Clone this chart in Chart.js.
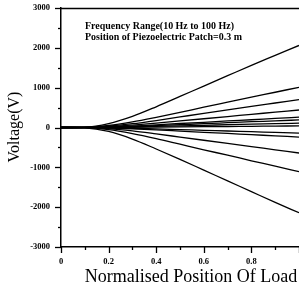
<!DOCTYPE html>
<html>
<head>
<meta charset="utf-8">
<script src="https://cdn.jsdelivr.net/npm/chart.js@4.4.1/dist/chart.umd.min.js"></script>
<style>
  html, body { margin: 0; padding: 0; background: #fff; }
  #wrap { width: 299px; height: 288px; }
</style>
</head>
<body>
<div id="wrap"><canvas id="c"></canvas></div>
<script>
// Posizioni normalizzate del carico (asse X)
const positions = [0, 0.1, 0.2, 0.3, 0.4, 0.5, 0.6, 0.7, 0.8, 0.9, 1.0];

// Tensioni, una curva per frequenza (10–100 Hz)
const v1 = [0, 10, 100, 280, 520, 780, 1040, 1300, 1560, 1810, 2060];
const v2 = [0, 5, 50, 140, 255, 380, 510, 635, 760, 885, 1010];
const v3 = [0, 3, 35, 95, 175, 265, 355, 440, 530, 615, 700];
const v4 = [0, 2, 20, 60, 110, 165, 220, 275, 330, 385, 440];
const v5 = [0, 1, 13, 35, 65, 100, 130, 165, 195, 230, 260];
const v6 = [0, 1, 9, 25, 48, 72, 95, 120, 145, 165, 190];
const v7 = [0, 0, 5, 15, 28, 42, 55, 70, 83, 97, 110];
const v8 = [0, 0, 2, 5, 10, 15, 20, 25, 30, 35, 40];
const v9 = [0, -1, -7, -19, -35, -53, -70, -88, -105, -123, -140];
const v10 = [0, -1, -12, -33, -60, -90, -120, -150, -180, -210, -240];
const v11 = [0, -3, -30, -85, -160, -240, -320, -400, -480, -560, -640];
const v12 = [0, -5, -55, -155, -280, -420, -560, -695, -835, -970, -1110];
const v13 = [0, -10, -100, -290, -540, -800, -1070, -1340, -1610, -1880, -2140];
const series = [v1, v2, v3, v4, v5, v6, v7, v8, v9, v10, v11, v12, v13];

const yMajor = [-3000, -2000, -1000, 0, 1000, 2000, 3000];
const xLabels = ['0', '0.2', '0.4', '0.6', '0.8'];
const note = ['Frequency Range(10 Hz to 100 Hz)', 'Position of Piezoelectric Patch=0.3 m'];
const xTitle = 'Normalised Position Of Load';
const yTitle = 'Voltage(V)';

const SERIF = '"Liberation Serif", "DejaVu Serif", serif';

// Tacche maggiori/minori, cornice superiore, titoli e nota
const decor = {
  id: 'decor',
  afterDraw(chart) {
    const { ctx, chartArea: a, scales } = chart;
    ctx.save();
    ctx.strokeStyle = '#000';
    ctx.lineWidth = 1.3;
    // tacche Y (verso sinistra)
    for (let v = -3000; v <= 3000; v += 500) {
      const y = Math.round(scales.y.getPixelForValue(v)) + 0.5;
      const len = v % 1000 === 0 ? 6 : 3;
      ctx.beginPath(); ctx.moveTo(a.left - len, y); ctx.lineTo(a.left, y); ctx.stroke();
    }
    // tacche X (verso il basso)
    for (let i = 0; i <= 10; i++) {
      const x = Math.round(scales.x.getPixelForValue(i / 10)) + 0.5;
      const len = i % 2 === 0 ? 6 : 3;
      ctx.beginPath(); ctx.moveTo(x, a.bottom); ctx.lineTo(x, a.bottom + len); ctx.stroke();
    }
    // linea superiore a 3000
    ctx.lineWidth = 1.5;
    ctx.beginPath(); ctx.moveTo(a.left, a.top + 0.5); ctx.lineTo(a.right, a.top + 0.5); ctx.stroke();

    ctx.fillStyle = '#000';
    ctx.font = 'bold 10px ' + SERIF;
    ctx.textAlign = 'left';
    ctx.textBaseline = 'middle';
    ctx.fillText(note[0], 85, 26, 149);
    ctx.fillText(note[1], 85, 37, 157);

    ctx.font = '18px ' + SERIF;
    ctx.textAlign = 'center';
    ctx.fillText(xTitle, 191, 277);

    ctx.translate(15, 127);
    ctx.rotate(-Math.PI / 2);
    ctx.font = '16px ' + SERIF;
    ctx.fillText(yTitle, 0, 0);
    ctx.restore();
  },
};

new Chart(document.getElementById('c'), {
  type: 'line',
  data: {
    datasets: series.map((s, i) => ({
      label: 'f' + (i + 1),
      data: positions.map((x, k) => ({ x, y: s[k] })),
      borderColor: '#000',
      borderWidth: 1.3,
      pointRadius: 0,
      cubicInterpolationMode: 'monotone',
      fill: false,
    })),
  },
  options: {
    responsive: true,
    maintainAspectRatio: false,
    animation: false,
    layout: { padding: { top: 8, right: 0, left: 0, bottom: 0 } },
    scales: {
      x: {
        type: 'linear', min: 0, max: 1,
        afterFit: (s) => { s.height = 41; s.paddingLeft = 0; s.paddingRight = 0; },
        grid: { display: false, drawTicks: false },
        border: { display: true, color: '#000', width: 1.5 },
        ticks: {
          stepSize: 0.1, padding: 10, autoSkip: false, maxRotation: 0,
          color: '#000', font: { family: SERIF, size: 8.5, weight: 'bold' },
          callback: (v) => {
            const k = Math.round(v * 10);
            return k % 2 === 0 && k < 10 ? xLabels[k / 2] : '';
          },
        },
      },
      y: {
        min: -3000, max: 3000,
        afterFit: (s) => { s.width = 61; s.paddingTop = 0; s.paddingBottom = 0; },
        grid: { display: false, drawTicks: false },
        border: { display: true, color: '#000', width: 1.5 },
        ticks: {
          stepSize: 500, padding: 11, autoSkip: false,
          color: '#000', font: { family: SERIF, size: 8.5, weight: 'bold' },
          callback: (v) => (yMajor.includes(v) ? String(v) : ''),
        },
      },
    },
    plugins: { legend: { display: false }, tooltip: { enabled: false } },
  },
  plugins: [decor],
});
</script>
</body>
</html>
